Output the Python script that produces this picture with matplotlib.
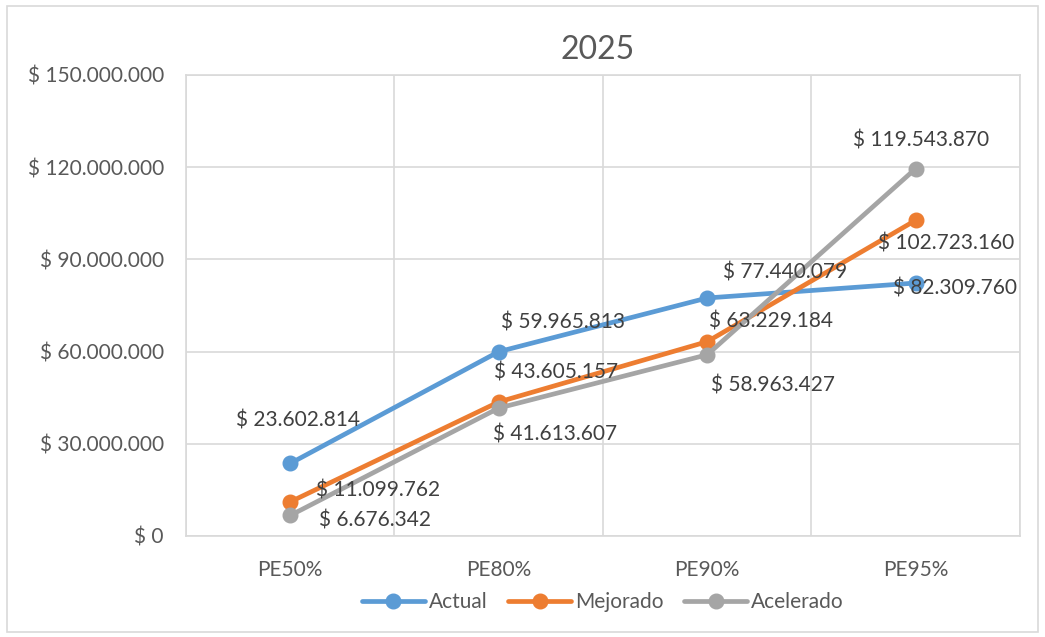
import matplotlib
matplotlib.use("Agg")
import matplotlib.pyplot as plt
from matplotlib.patches import Rectangle
from matplotlib.ticker import FuncFormatter, MultipleLocator

categories = ["PE50%", "PE80%", "PE90%", "PE95%"]
actual = [23602814, 59965813, 77440079, 82309760]
mejorado = [11099762, 43605157, 63229184, 102723160]
acelerado = [6676342, 41613607, 58963427, 119543870]

# label offsets in pixels (dx, dy) relative to each point
actual_off = [(8, 43), (64, 29), (78, 25), (39, -5)]
mejorado_off = [(88, 11), (57, 29), (64, 20), (30, -23)]
acelerado_off = [(85, -5), (56, -26), (66, -31), (5, 28)]

plt.rcParams["font.family"] = ["Lato", "DejaVu Sans"]


def money(v):
    return "$ " + f"{int(round(v)):,}".replace(",", ".")


fig = plt.figure(figsize=(10.45, 6.37), dpi=100)
ax = fig.add_axes([0.178, 0.1586, 0.798, 0.7237])

fig.patches.append(Rectangle((7 / 1045, 1 - 632 / 637), 1031 / 1045, 626 / 637,
                             transform=fig.transFigure, fill=False,
                             edgecolor="#D9D9D9", linewidth=1.2))

x = list(range(len(categories)))
series = [
    ("Actual", actual, "#5B9BD5", actual_off),
    ("Mejorado", mejorado, "#ED7D31", mejorado_off),
    ("Acelerado", acelerado, "#A5A5A5", acelerado_off),
]
for name, vals, col, offs in series:
    ax.plot(x, vals, color=col, lw=3.4, marker="o", markersize=10.5,
            label=name, solid_capstyle="round", zorder=3)
    for xi, v, (dx, dy) in zip(x, vals, offs):
        ax.annotate(money(v), (xi, v), xytext=(dx, dy),
                    textcoords="offset pixels", ha="center", va="center",
                    fontsize=15, color="#404040", zorder=4)

ax.set_xlim(-0.5, 3.5)
ax.set_ylim(0, 150000000)
ax.yaxis.set_major_locator(MultipleLocator(30000000))
ax.yaxis.set_major_formatter(FuncFormatter(lambda v, p: money(v)))
ax.set_xticks(x)
ax.set_xticklabels(categories)
ax.set_xticks([-0.5, 0.5, 1.5, 2.5, 3.5], minor=True)
ax.grid(True, which="major", axis="y", color="#D9D9D9", lw=1.2)
ax.grid(True, which="minor", axis="x", color="#D9D9D9", lw=1.2)
ax.set_axisbelow(True)
for s in ax.spines.values():
    s.set_color("#D9D9D9")
    s.set_linewidth(1.2)
ax.tick_params(axis="both", which="both", length=0, colors="#595959",
               labelsize=15)
ax.tick_params(axis="y", pad=16)
ax.tick_params(axis="x", pad=17)

fig.text(0.572, 1 - 50 / 637, "2025", ha="center", va="center",
         fontsize=23, color="#595959")

ax.legend(loc="center", bbox_to_anchor=(0.5, -0.143), ncol=3, frameon=False,
          fontsize=15, labelcolor="#595959", handlelength=3.0,
          columnspacing=1.0, handletextpad=0.2, markerscale=1.0)

fig.savefig("out.png", dpi=100)
